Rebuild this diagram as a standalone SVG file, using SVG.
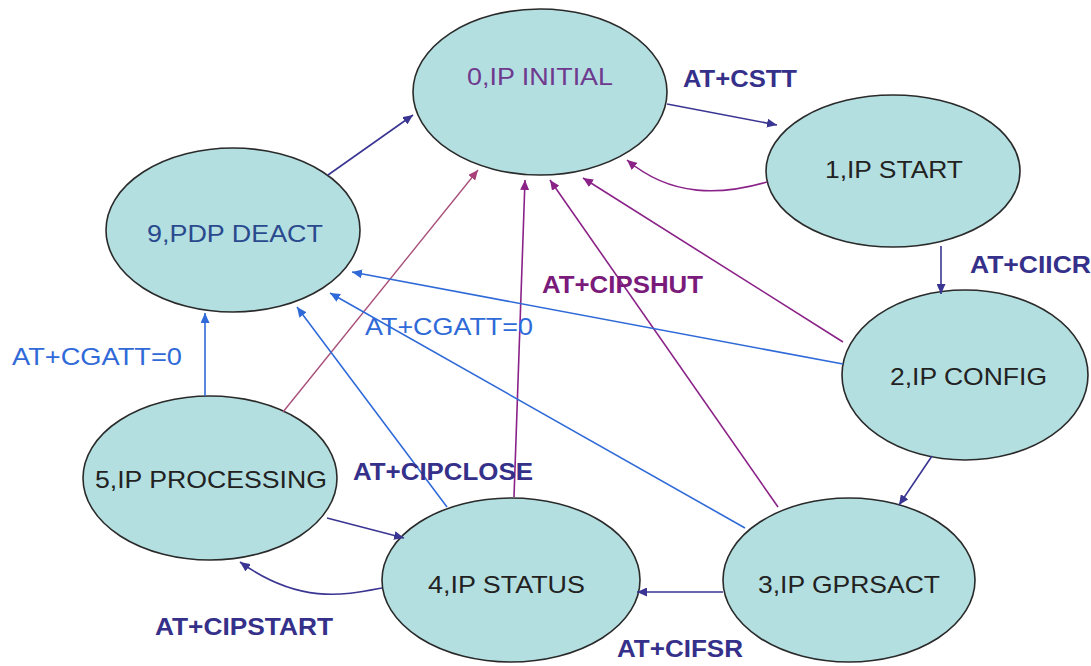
<svg xmlns="http://www.w3.org/2000/svg" width="1091" height="666" viewBox="0 0 1091 666">
<style>
.node ellipse{fill:#b4dfe1;stroke:#2a2a2a;stroke-width:1.6}
.nt{font-family:"Liberation Sans",Arial,sans-serif;font-size:24px;fill:#222}
.lb{font-family:"Liberation Sans",Arial,sans-serif;font-size:24px;font-weight:bold}
.navy{stroke:#3a3592;fill:none;stroke-width:1.6}
.purp{stroke:#8a2288;fill:none;stroke-width:1.6}
.pink{stroke:#a8507a;fill:none;stroke-width:1.4}
.blue{stroke:#2f6ad8;fill:none;stroke-width:1.6}
</style>
<defs>
<marker id="aN" markerUnits="userSpaceOnUse" markerWidth="11" markerHeight="9" refX="10" refY="4.5" orient="auto"><path d="M0,0 L10,4.5 L0,9 z" fill="#3a3592"/></marker>
<marker id="aP" markerUnits="userSpaceOnUse" markerWidth="11" markerHeight="9" refX="10" refY="4.5" orient="auto"><path d="M0,0 L10,4.5 L0,9 z" fill="#8a2288"/></marker>
<marker id="aK" markerUnits="userSpaceOnUse" markerWidth="11" markerHeight="9" refX="10" refY="4.5" orient="auto"><path d="M0,0 L10,4.5 L0,9 z" fill="#a8407a"/></marker>
<marker id="aB" markerUnits="userSpaceOnUse" markerWidth="11" markerHeight="9" refX="10" refY="4.5" orient="auto"><path d="M0,0 L10,4.5 L0,9 z" fill="#2f6ad8"/></marker>
</defs>
<rect width="1091" height="666" fill="#ffffff"/>
<g id="n0" class="node"><ellipse cx="540" cy="92" rx="127" ry="83"/><text class="nt" x="467" y="85" textLength="146" lengthAdjust="spacingAndGlyphs" style="fill:#6e3a8e">0,IP INITIAL</text></g>
<g id="n1" class="node"><ellipse cx="893" cy="171" rx="127" ry="76"/><text class="nt" x="825" y="178" textLength="138" lengthAdjust="spacingAndGlyphs">1,IP START</text></g>
<g id="n2" class="node"><ellipse cx="965" cy="375" rx="123" ry="85"/><text class="nt" x="890" y="385" textLength="157" lengthAdjust="spacingAndGlyphs">2,IP CONFIG</text></g>
<g id="n3" class="node"><ellipse cx="849" cy="580" rx="126" ry="82"/><text class="nt" x="758" y="593" textLength="182" lengthAdjust="spacingAndGlyphs">3,IP GPRSACT</text></g>
<g id="n4" class="node"><ellipse cx="511" cy="580" rx="129" ry="82"/><text class="nt" x="428" y="593" textLength="157" lengthAdjust="spacingAndGlyphs">4,IP STATUS</text></g>
<g id="n5" class="node"><ellipse cx="210" cy="478" rx="127" ry="82"/><text class="nt" x="95" y="488" textLength="232" lengthAdjust="spacingAndGlyphs">5,IP PROCESSING</text></g>
<g id="n9" class="node"><ellipse cx="233" cy="230" rx="127" ry="82"/><text class="nt" x="147" y="242" textLength="176" lengthAdjust="spacingAndGlyphs" style="fill:#2a4a8e">9,PDP DEACT</text></g>
<g id="connectors">
<path class="navy" d="M667,104 L777,125" marker-end="url(#aN)"/>
<path class="purp" d="M767,182 C722,195 672,198 627,160" marker-end="url(#aP)"/>
<path class="navy" d="M941,246 L941,294" marker-end="url(#aN)"/>
<path class="navy" d="M932,456 L899,505" marker-end="url(#aN)"/>
<path class="navy" d="M723,592 L637,592" marker-end="url(#aN)"/>
<path class="navy" d="M327,518 L404,538" marker-end="url(#aN)"/>
<path class="navy" d="M382,588 C345,595 300,605 240,562" marker-end="url(#aN)"/>
<path class="navy" d="M328,175 L413,115" marker-end="url(#aN)"/>
<path class="purp" d="M843,342 L583,178" marker-end="url(#aP)"/>
<path class="purp" d="M778,507 L550,180" marker-end="url(#aP)"/>
<path class="purp" d="M514,497 L525,180" marker-end="url(#aP)"/>
<path class="pink" d="M283,412 L478,170" marker-end="url(#aK)"/>
<path class="blue" d="M843,364 L352,272" marker-end="url(#aB)"/>
<path class="blue" d="M745,528 L330,293" marker-end="url(#aB)"/>
<path class="blue" d="M447,507 L297,307" marker-end="url(#aB)"/>
<path class="blue" d="M205,396 L205,313" marker-end="url(#aB)"/>
</g>
<g id="labels">
<text class="lb" x="683" y="87" textLength="114" lengthAdjust="spacingAndGlyphs" fill="#35308a">AT+CSTT</text>
<text class="lb" x="970" y="273" textLength="121" lengthAdjust="spacingAndGlyphs" fill="#35308a">AT+CIICR</text>
<text class="lb" x="542" y="293" textLength="161" lengthAdjust="spacingAndGlyphs" fill="#7a1a7a">AT+CIPSHUT</text>
<text class="lb" x="353" y="480" textLength="180" lengthAdjust="spacingAndGlyphs" fill="#35308a">AT+CIPCLOSE</text>
<text class="lb" x="155" y="635" textLength="178" lengthAdjust="spacingAndGlyphs" fill="#35308a">AT+CIPSTART</text>
<text class="lb" x="617" y="657" textLength="126" lengthAdjust="spacingAndGlyphs" fill="#35308a">AT+CIFSR</text>
<text class="nt" x="12" y="365" textLength="170" lengthAdjust="spacingAndGlyphs" style="fill:#2f6ad8">AT+CGATT=0</text>
<text class="nt" x="365" y="335" textLength="168" lengthAdjust="spacingAndGlyphs" style="fill:#2f6ad8">AT+CGATT=0</text>
</g>
</svg>
